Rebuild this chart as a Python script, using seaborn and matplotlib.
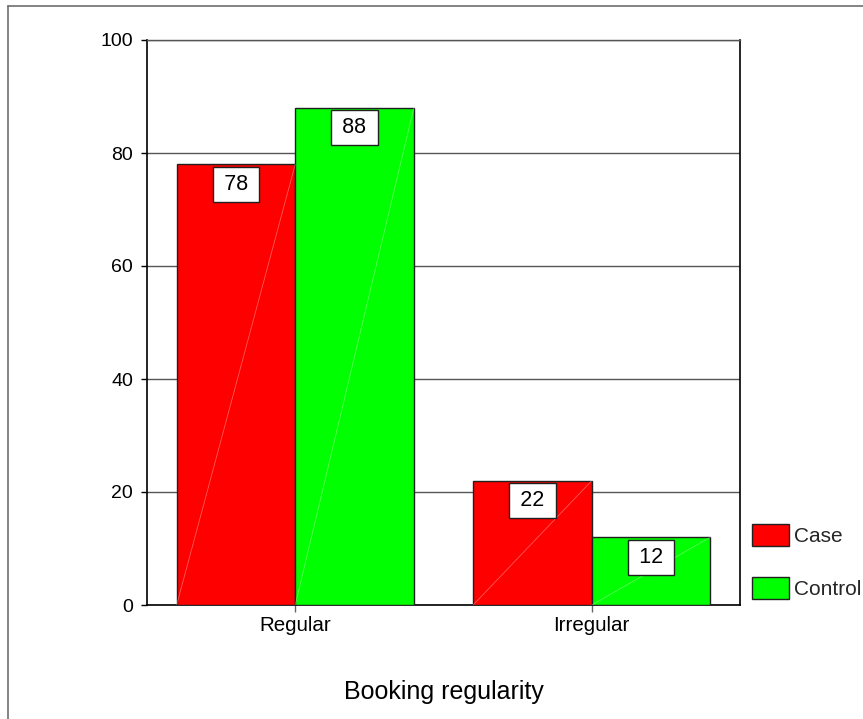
import matplotlib
matplotlib.use("Agg")
import matplotlib.pyplot as plt
from matplotlib.lines import Line2D
import seaborn as sns
import pandas as pd

# Share (%) of each booking pattern among cases and controls
categories = ["Regular", "Irregular"]
groups = ["Case", "Control"]
case_pct = [78, 22]
control_pct = [88, 12]
y_ticks = [0, 20, 40, 60, 80, 100]
x_title = "Booking regularity"

df = pd.DataFrame({
    "regularity": categories * 2,
    "group": [groups[0]] * len(categories) + [groups[1]] * len(categories),
    "pct": case_pct + control_pct,
})

sns.set_theme(style="white")
plt.rcParams["font.family"] = ["Liberation Sans", "DejaVu Sans"]

W, H, DPI = 863, 719, 100
fig = plt.figure(figsize=(W / DPI, H / DPI), dpi=DPI)
fig.patch.set_facecolor("white")

# axes box in pixel terms: x 147..740, y 40..605
ax = fig.add_axes([147 / W, 1 - 605 / H, (740 - 147) / W, (605 - 40) / H])
ax.set_facecolor("white")

sns.barplot(
    data=df, x="regularity", y="pct", hue="group", order=categories,
    hue_order=groups, palette=["#ff0000", "#00ff00"], saturation=1,
    edgecolor="#202020", linewidth=1.0, width=0.8, ax=ax, zorder=3,
)

ax.set_xlim(-0.5, 1.5)
ax.set_ylim(0, 100)
ax.set_yticks(y_ticks)
ax.set_yticklabels([str(t) for t in y_ticks])
ax.yaxis.grid(True, color="#555555", linewidth=1.0, zorder=0)
ax.set_axisbelow(True)

for side in ["left", "bottom", "right"]:
    ax.spines[side].set_color("black")
    ax.spines[side].set_linewidth(1.2)
ax.spines["top"].set_color("#555555")
ax.spines["top"].set_linewidth(1.0)

ax.tick_params(axis="y", direction="out", length=4, width=1, color="black",
               pad=6, labelsize=14, labelcolor="black", left=True)
ax.tick_params(axis="x", direction="out", length=5, width=1, color="#666666",
               pad=3, labelsize=14.8, labelcolor="black", bottom=True)

ax.set_ylabel("")
ax.set_xlabel(x_title, fontsize=18, color="black")
ax.xaxis.set_label_coords(0.5, -0.133)

# faint diagonal sheen across each bar, plus boxed value labels at the top
for patch in ax.patches:
    h = patch.get_height()
    if h == 0 or pd.isna(h):
        continue
    x0 = patch.get_x()
    w = patch.get_width()
    ax.plot([x0, x0 + w], [0, h], color="white", alpha=0.35, lw=0.6, zorder=4)

for container in ax.containers:
    for patch in container.patches:
        h = patch.get_height()
        cx = patch.get_x() + patch.get_width() / 2
        ax.annotate(
            f"\u2009{h:g}\u2009", xy=(cx, h), xytext=(0, -6.8),
            textcoords="offset points", ha="center", va="top", fontsize=15.5,
            color="black", zorder=6,
            bbox=dict(boxstyle="square,pad=0.33", facecolor="white",
                      edgecolor="#202020", linewidth=1.0),
        )

# legend to the right of the plotting area
handles, labels = ax.get_legend_handles_labels()
ax.legend(
    handles, labels, loc="upper left",
    bbox_to_anchor=(752 / W, 1 - 524 / H), bbox_transform=fig.transFigure,
    frameon=False, fontsize=15, handlelength=1.78, handleheight=1.25,
    labelspacing=1.49, handletextpad=0.24, borderpad=0, borderaxespad=0,
)

# thin frame along the left and top edges of the figure
fig.add_artist(Line2D([7.5 / W, 7.5 / W], [0, 1 - 5.5 / H],
                      transform=fig.transFigure, color="#6e6e6e", lw=1.2))
fig.add_artist(Line2D([7.5 / W, 1], [1 - 5.5 / H, 1 - 5.5 / H],
                      transform=fig.transFigure, color="#6e6e6e", lw=1.2))

fig.savefig("out.png", dpi=DPI, facecolor="white")
